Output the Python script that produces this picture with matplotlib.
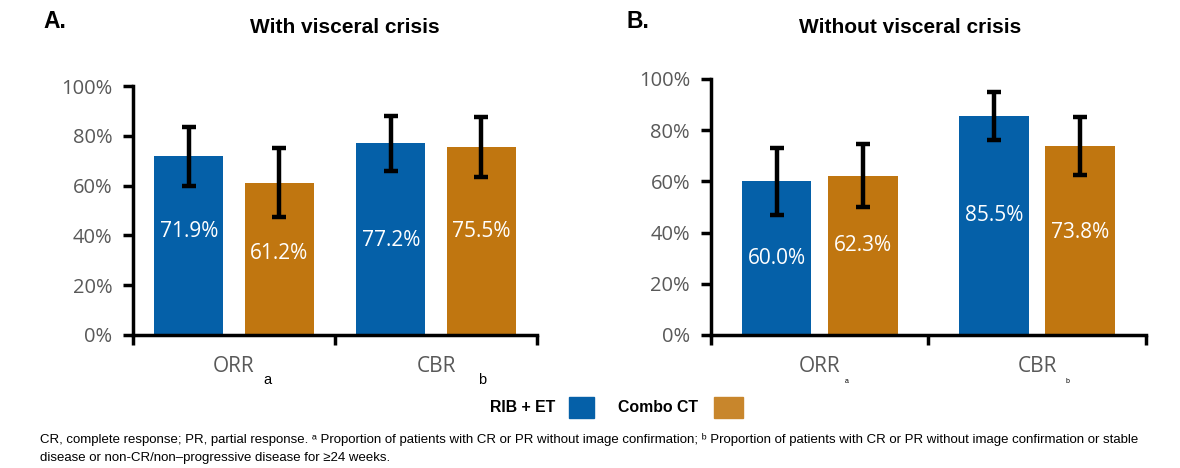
import matplotlib
matplotlib.use("Agg")
import matplotlib.pyplot as plt
from matplotlib.patches import Rectangle
from matplotlib.ticker import FixedLocator, FuncFormatter

# ---- data ----
categories = ["ORR", "CBR"]
footnote_marks = ["a", "b"]
series_names = ["RIB + ET", "Combo CT"]

with_vc_rib = [71.9, 77.2]
with_vc_combo = [61.2, 75.5]
with_vc_rib_ci = [(60.0, 83.5), (66.0, 88.0)]
with_vc_combo_ci = [(47.5, 75.0), (63.5, 87.5)]

without_vc_rib = [60.0, 85.5]
without_vc_combo = [62.3, 73.8]
without_vc_rib_ci = [(47.0, 73.0), (76.0, 95.0)]
without_vc_combo_ci = [(50.0, 74.5), (62.5, 85.0)]

yticks = [0, 20, 40, 60, 80, 100]

# ---- style ----
BLUE = "#0560A8"
ORANGE = "#C07610"
LEG_ORANGE = "#C8862C"
GRAY = "#595959"
SANS = ["Open Sans", "DejaVu Sans"]
ARIAL = ["Liberation Sans", "DejaVu Sans"]

fig = plt.figure(figsize=(11.8, 4.68), dpi=100)
fig.patch.set_facecolor("white")


def panel(rect, rib, combo, rib_ci, combo_ci, offset, width, label_y,
          sub_size, sub_dx):
    ax = fig.add_axes(rect)
    x = list(range(len(categories)))
    series = [(rib, rib_ci, BLUE, -offset, label_y[0]),
              (combo, combo_ci, ORANGE, offset, label_y[1])]
    for vals, ci, color, dx, ly in series:
        xs = [xi + dx for xi in x]
        ax.bar(xs, vals, width=width, color=color, zorder=2)
        lo = [v - c[0] for v, c in zip(vals, ci)]
        hi = [c[1] - v for v, c in zip(vals, ci)]
        ax.errorbar(xs, vals, yerr=[lo, hi], fmt="none", ecolor="black",
                    elinewidth=3.2, capsize=5, capthick=3.2, zorder=3)
        for xi, v, yy in zip(xs, vals, ly):
            ax.text(xi, yy, f"{v:.1f}%", ha="center", va="center",
                    color="white", fontsize=15, family=SANS, zorder=4)

    ax.set_xlim(-0.5, len(categories) - 0.5)
    ax.set_ylim(0, 100)
    ax.set_yticks(yticks)
    ax.yaxis.set_major_formatter(FuncFormatter(lambda v, p: f"{v:.0f}%"))
    ax.set_xticks(x)
    ax.set_xticklabels(categories)
    ax.xaxis.set_minor_locator(FixedLocator([-0.5, 0.5, 1.5]))
    ax.tick_params(axis="x", which="major", length=0, pad=15,
                   labelsize=15, labelcolor=GRAY)
    ax.tick_params(axis="x", which="minor", length=7, width=2.5,
                   direction="out", color="black")
    ax.tick_params(axis="y", length=7, width=2.5, direction="out",
                   labelsize=14.5, labelcolor=GRAY, pad=8)
    for lab in ax.get_xticklabels() + ax.get_yticklabels():
        lab.set_family(SANS)
    for s in ("top", "right"):
        ax.spines[s].set_visible(False)
    for s in ("left", "bottom"):
        ax.spines[s].set_linewidth(2.5)
        ax.spines[s].set_color("black")
    ax.spines["bottom"].set_zorder(5)
    for xi, mark, sdx in zip(x, footnote_marks, sub_dx):
        ax.text(xi + sdx, -18.0, mark, ha="center", va="center",
                fontsize=sub_size, family=ARIAL, color="black", clip_on=False)
    return ax


panel([0.1127, 0.2842, 0.3424, 0.532],
      with_vc_rib, with_vc_combo, with_vc_rib_ci, with_vc_combo_ci,
      0.224, 0.34, ([41.7, 38.0], [32.8, 41.5]), 10.5, (0.165, 0.23))
panel([0.6025, 0.2842, 0.3686, 0.547],
      without_vc_rib, without_vc_combo, without_vc_rib_ci, without_vc_combo_ci,
      0.198, 0.32, ([30.0, 46.5], [34.8, 40.0]), 5, (0.125, 0.14))

# panel letters and titles
fig.text(0.037, 0.955, "A.", fontsize=16.5, fontweight="bold", family=ARIAL,
         va="center")
fig.text(0.2925, 0.942, "With visceral crisis", fontsize=15, fontweight="bold",
         family=ARIAL, ha="center", va="center")
fig.text(0.531, 0.955, "B.", fontsize=16.5, fontweight="bold", family=ARIAL,
         va="center")
fig.text(0.771, 0.942, "Without visceral crisis", fontsize=15,
         fontweight="bold", family=ARIAL, ha="center", va="center")

# legend
fig.text(0.4703, 0.129, series_names[0], fontsize=11.4, fontweight="bold",
         family=ARIAL, ha="right", va="center")
fig.patches.append(Rectangle((0.4822, 0.1068), 0.0212, 0.0449, color=BLUE,
                             transform=fig.transFigure, figure=fig))
fig.text(0.5915, 0.129, series_names[1], fontsize=11.4, fontweight="bold",
         family=ARIAL, ha="right", va="center")
fig.patches.append(Rectangle((0.6051, 0.1068), 0.0246, 0.0449,
                             color=LEG_ORANGE, transform=fig.transFigure,
                             figure=fig))

# footnote
fig.text(0.034, 0.060,
         "CR, complete response; PR, partial response. \u1d43 Proportion of "
         "patients with CR or PR without image confirmation; \u1d47 Proportion "
         "of patients with CR or PR without image confirmation or stable",
         fontsize=9.5, family=ARIAL, va="center")
fig.text(0.034, 0.021,
         "disease or non-CR/non\u2013progressive disease for \u226524 weeks.",
         fontsize=9.5, family=ARIAL, va="center")

fig.savefig("out.png", dpi=100)
